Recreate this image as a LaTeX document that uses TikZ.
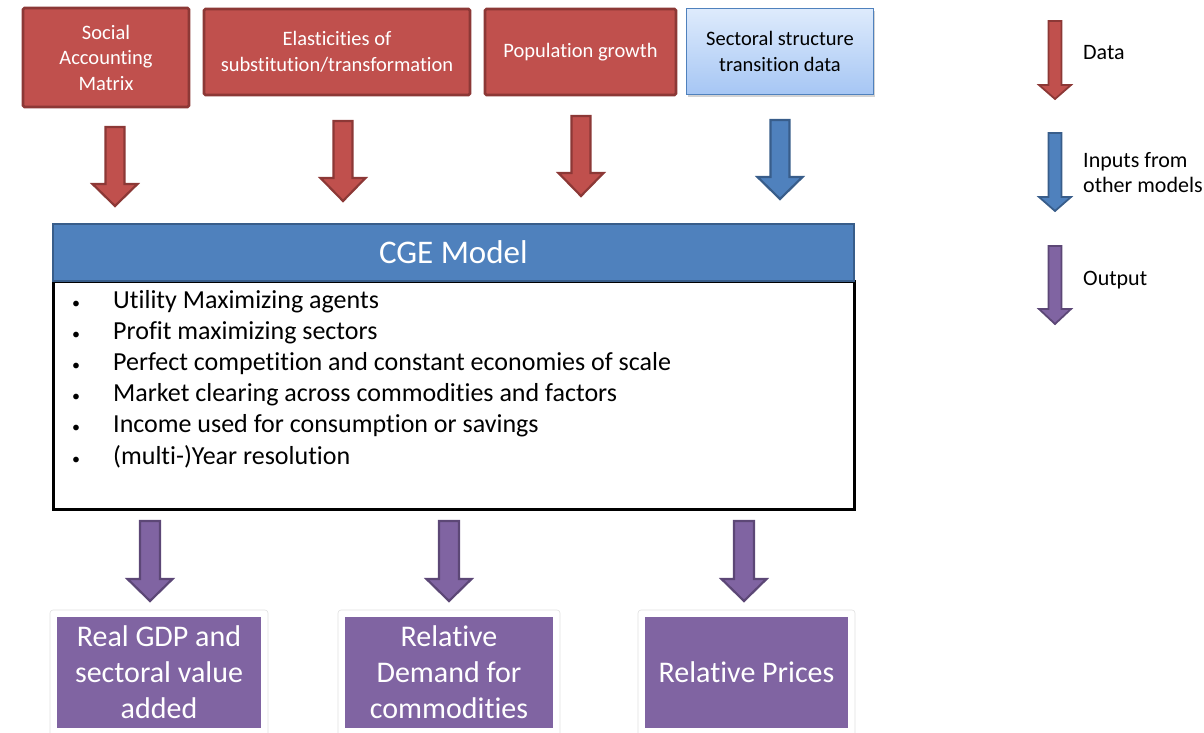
\documentclass[tikz,border=0pt]{standalone}
\usepackage{fontspec}
\setmainfont{Carlito}[RawFeature=-liga]
\usetikzlibrary{shadows}

\definecolor{redfill}{HTML}{C0504D}
\definecolor{redline}{HTML}{8C3836}
\definecolor{bluefill}{HTML}{4F81BD}
\definecolor{blueline}{HTML}{385D8A}
\definecolor{purpfill}{HTML}{8064A2}
\definecolor{purpline}{HTML}{5C4776}
\definecolor{skytop}{HTML}{DEEBFC}
\definecolor{skybot}{HTML}{A6C6F4}

\tikzset{
  databox/.style={draw=redline, line width=2.6pt, fill=redfill, rounded corners=1.5pt,
    text=white, align=center, inner sep=0pt, font=\fontsize{20.5}{25.5}\selectfont},
  inputbox/.style={draw=bluefill, line width=1.6pt, top color=skytop, bottom color=skybot,
    align=center, inner sep=0pt, font=\fontsize{20.5}{25.5}\selectfont,
    drop shadow={opacity=0.35, shadow xshift=1pt, shadow yshift=-2.5pt}},
  headbox/.style={draw=blueline, line width=1.8pt, fill=bluefill, text=white,
    inner sep=0pt, font=\fontsize{33}{38}\selectfont},
  bodybox/.style={draw=black, line width=2.6pt, fill=white, inner sep=0pt},
  outframe/.style={draw=black!12, line width=0.6pt, fill=white, rounded corners=3pt, inner sep=0pt},
  outbox/.style={fill=purpfill, text=white, align=center, inner sep=0pt,
    font=\fontsize{30}{36}\selectfont},
  redarrow/.style={fill=redfill, draw=redline, line width=2.2pt, line join=miter},
  bluearrow/.style={fill=bluefill, draw=blueline, line width=2.2pt, line join=miter},
  purparrow/.style={fill=purpfill, draw=purpline, line width=2.2pt, line join=miter},
  legtext/.style={anchor=west, align=left, inner sep=0pt, font=\fontsize{22}{25.5}\selectfont},
}

% block arrow: style, x, top y, head y, tip y, half shaft width, half head width
\newcommand{\blockarrow}[7]{%
  \draw[#1] ({#2-#6},#3) -- ({#2+#6},#3) -- ({#2+#6},#4) -- ({#2+#7},#4)
    -- (#2,#5) -- ({#2-#7},#4) -- ({#2-#6},#4) -- cycle;}
\newcommand{\smallbullet}{{\fontsize{16}{16}\selectfont\textbullet}}

\begin{document}
\begin{tikzpicture}[x=1pt,y=-1pt]
\useasboundingbox (0,0) rectangle (1204,733);

% data and input boxes
\node[databox, minimum width=166pt, minimum height=99pt] (sam) at (106,57.5)
  {Social\\Accounting\\Matrix};
\node[databox, minimum width=266pt, minimum height=86pt] (elast) at (337,52)
  {Elasticities of\\substitution/transformation};
\node[databox, minimum width=191pt, minimum height=86pt] (pop) at (580.5,52)
  {Population growth};
\node[inputbox, minimum width=187pt, minimum height=86pt] (sect) at (780,51.5)
  {Sectoral structure\\transition data};

% arrows into the model
\blockarrow{redarrow}{115}{127}{184}{206}{9.5}{22.5}
\blockarrow{redarrow}{343}{121}{178}{201}{9.5}{22.5}
\blockarrow{redarrow}{581}{116}{173}{196}{9.5}{22.5}
\blockarrow{bluearrow}{780}{120}{177}{199}{9.5}{22.5}

% model box
\node[bodybox, minimum width=801pt, minimum height=228pt, anchor=north west] (body) at (52,280) {};
\node[headbox, minimum width=801pt, minimum height=57pt, anchor=north west] (head) at (52,223)
  {CGE Model};
\node[anchor=base west, inner sep=0pt, font=\fontsize{26}{31.2}\selectfont] (list) at (72,308)
  {\begin{tabular}[t]{@{}p{41pt}@{}l@{}}
   \smallbullet & Utility Maximizing agents\\
   \smallbullet & Profit maximizing sectors\\
   \smallbullet & Perfect competition and constant economies of scale\\
   \smallbullet & Market clearing across commodities and factors\\
   \smallbullet & Income used for consumption or savings\\
   \smallbullet & (multi-)Year resolution
   \end{tabular}};

% arrows out of the model
\blockarrow{purparrow}{150}{521}{579}{601}{10}{22.5}
\blockarrow{purparrow}{449}{521}{579}{601}{10}{22.5}
\blockarrow{purparrow}{744}{521}{579}{601}{10}{22.5}

% output boxes
\node[outframe, minimum width=218pt, minimum height=130pt] (f1) at (159,675) {};
\node[outframe, minimum width=222pt, minimum height=130pt] (f2) at (449,675) {};
\node[outframe, minimum width=217pt, minimum height=130pt] (f3) at (746.5,675) {};
\node[outbox, minimum width=204pt, minimum height=111pt] (gdp) at (159,672.5)
  {Real GDP and\\sectoral value\\added};
\node[outbox, minimum width=208pt, minimum height=111pt] (dem) at (449,672.5)
  {Relative\\Demand for\\commodities};
\node[outbox, minimum width=203pt, minimum height=111pt] (pri) at (746.5,672.5)
  {Relative Prices};

% legend
\blockarrow{redarrow, line width=1.8pt}{1055}{21}{85}{99}{6.5}{16}
\blockarrow{bluearrow, line width=1.8pt}{1055}{133}{197}{211}{6.5}{16}
\blockarrow{purparrow, line width=1.8pt}{1055}{246}{309}{324}{6.5}{16}
\node[legtext] (ldata) at (1083,53) {Data};
\node[legtext] (linp) at (1083,172.5) {Inputs from\\other models};
\node[legtext] (lout) at (1083,280) {Output};
\end{tikzpicture}
\end{document}
